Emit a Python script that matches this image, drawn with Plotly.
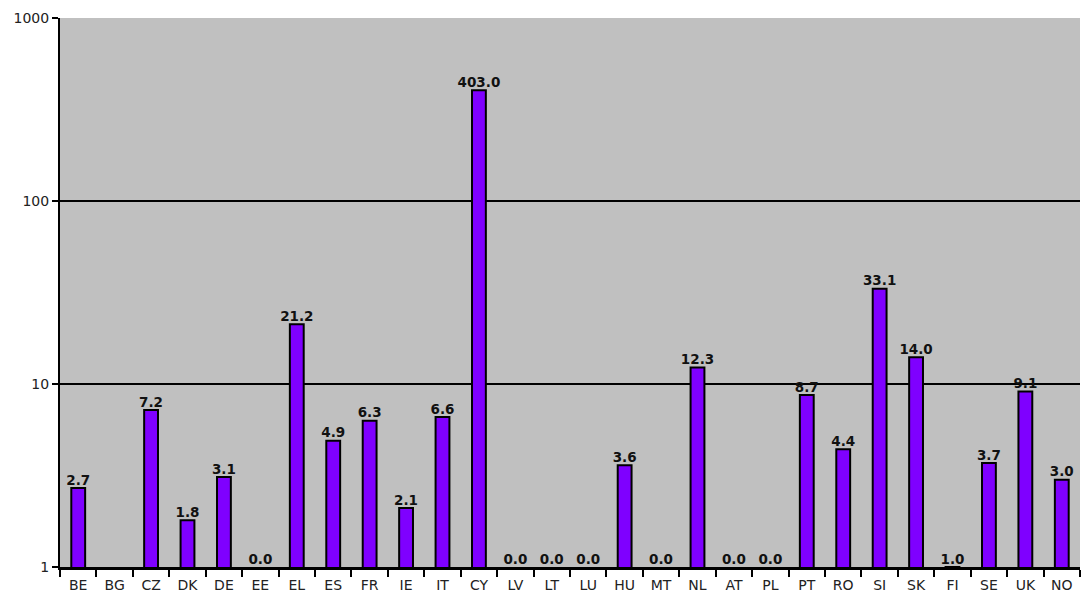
import plotly.graph_objects as go

countries = ["BE", "BG", "CZ", "DK", "DE", "EE", "EL", "ES", "FR", "IE", "IT", "CY", "LV", "LT",
             "LU", "HU", "MT", "NL", "AT", "PL", "PT", "RO", "SI", "SK", "FI", "SE", "UK", "NO"]
values = [2.7, None, 7.2, 1.8, 3.1, 0.0, 21.2, 4.9, 6.3, 2.1, 6.6, 403.0, 0.0, 0.0,
          0.0, 3.6, 0.0, 12.3, 0.0, 0.0, 8.7, 4.4, 33.1, 14.0, 1.0, 3.7, 9.1, 3.0]

bar_y = [v if (v is not None and v > 0) else None for v in values]
lab_y = [None if v is None else max(v, 1.0) for v in values]
lab_txt = ["" if v is None else f"{v:.1f}" for v in values]

fig = go.Figure()
fig.add_trace(go.Bar(
    x=countries, y=bar_y, width=0.38,
    marker=dict(color="#7F00FF", line=dict(color="black", width=2)),
    hoverinfo="x+y",
))
fig.add_trace(go.Scatter(
    x=countries, y=lab_y, mode="text", text=lab_txt,
    textposition="top center",
    textfont=dict(family="DejaVu Sans", size=13.5, color="#111", weight="bold"),
    hoverinfo="skip",
))

fig.update_layout(
    width=1081, height=594,
    margin=dict(l=60, r=1, t=18, b=27),
    plot_bgcolor="#C0C0C0", paper_bgcolor="white",
    showlegend=False,
    font=dict(family="DejaVu Sans", size=14, color="#222"),
)
fig.update_xaxes(
    type="category", range=[-0.5, len(countries) - 0.5], showgrid=False,
    showline=True, linecolor="black", linewidth=3,
    ticks="outside", tickson="boundaries", ticklen=7, tickwidth=2, tickcolor="black",
    tickfont=dict(size=14, color="#222"), ticklabelstandoff=3,
)
fig.update_yaxes(
    type="log", range=[0, 3],
    tickvals=[1, 10, 100, 1000], ticktext=["1", "10", "100", "1000"],
    showgrid=True, gridcolor="black", gridwidth=2,
    showline=True, linecolor="black", linewidth=2,
    ticks="outside", ticklen=6, tickwidth=2, tickcolor="black",
    tickfont=dict(size=14, color="#222"), ticklabelstandoff=0,
    zeroline=False,
)

fig.write_html("out.html", config={"displayModeBar": False},
               post_script="document.body.style.margin='0';")
